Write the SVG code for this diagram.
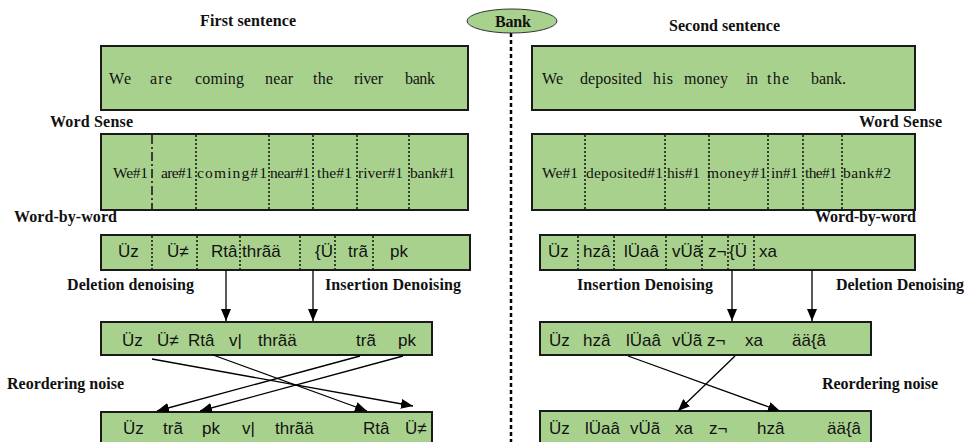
<svg xmlns="http://www.w3.org/2000/svg" width="969" height="442" viewBox="0 0 969 442">
<defs>
<marker id="ah" viewBox="0 0 12 10" refX="12" refY="5" markerWidth="12" markerHeight="10" markerUnits="userSpaceOnUse" orient="auto">
<path d="M0,0 L12,5 L0,10 z" fill="#000"/>
</marker>
<style>
.box{fill:#a9d18e;stroke:#1a1a1a;stroke-width:2}
.div{stroke:#111;stroke-width:1.5;stroke-dasharray:2 2}
.lbl{font-family:"Liberation Serif",serif;font-weight:bold;font-size:16px;fill:#111}
.sv{font-family:"Liberation Serif",serif;font-size:16px;fill:#111}
.ws{font-family:"Liberation Serif",serif;font-size:15.5px;fill:#111}
.ur{font-family:"Liberation Sans",sans-serif;font-size:17px;fill:#111}
.con{stroke:#000;stroke-width:1.3;fill:none;marker-end:url(#ah)}
</style>
</defs>
<rect width="969" height="442" fill="#fff"/>

<g id="labels">
<text class="lbl" x="200" y="26" textLength="96">First sentence</text>
<text class="lbl" x="669" y="31" textLength="111">Second sentence</text>
<text class="lbl" x="50" y="127" textLength="83">Word Sense</text>
<text class="lbl" x="859" y="127" textLength="83">Word Sense</text>
<text class="lbl" x="14" y="222" textLength="103">Word-by-word</text>
<text class="lbl" x="815" y="222" textLength="101">Word-by-word</text>
<text class="lbl" x="67" y="290" textLength="127">Deletion denoising</text>
<text class="lbl" x="325" y="290" textLength="136">Insertion Denoising</text>
<text class="lbl" x="577" y="290" textLength="136">Insertion Denoising</text>
<text class="lbl" x="836" y="290" textLength="128">Deletion Denoising</text>
<text class="lbl" x="7" y="389" textLength="117">Reordering noise</text>
<text class="lbl" x="822" y="389" textLength="116">Reordering noise</text>
</g>

<g id="bank">
<line x1="511" y1="33" x2="511" y2="442" stroke="#000" stroke-width="2.5" stroke-dasharray="4 3"/>
<ellipse cx="512" cy="21" rx="45" ry="12" fill="#a9d18e" stroke="#333" stroke-width="1"/>
<text class="lbl" x="495" y="27" textLength="36">Bank</text>
</g>

<g id="sentence1">
<rect class="box" x="101" y="46" width="367" height="64"/>
<text class="sv" x="109" y="84" textLength="22">We</text>
<text class="sv" x="150" y="84" textLength="22">are</text>
<text class="sv" x="195" y="84" textLength="49">coming</text>
<text class="sv" x="265" y="84" textLength="28">near</text>
<text class="sv" x="313" y="84" textLength="20">the</text>
<text class="sv" x="354" y="84" textLength="29">river</text>
<text class="sv" x="405" y="84" textLength="30">bank</text>
</g>

<g id="sentence2">
<rect class="box" x="532" y="46" width="383" height="64"/>
<text class="sv" x="542" y="84" textLength="21">We</text>
<text class="sv" x="580" y="84" textLength="62">deposited</text>
<text class="sv" x="653" y="84" textLength="20">his</text>
<text class="sv" x="684" y="84" textLength="44">money</text>
<text class="sv" x="746" y="84" textLength="12">in</text>
<text class="sv" x="767" y="84" textLength="22">the</text>
<text class="sv" x="811" y="84" textLength="35">bank.</text>
</g>

<g id="sense1">
<rect class="box" x="101" y="134" width="367" height="76"/>
<line x1="152" y1="135" x2="152" y2="209" stroke="#111" stroke-width="1.5" stroke-dasharray="9 3 2 3"/>
<line class="div" x1="196" y1="135" x2="196" y2="209"/>
<line class="div" x1="269" y1="135" x2="269" y2="209"/>
<line class="div" x1="313" y1="135" x2="313" y2="209"/>
<line class="div" x1="357" y1="135" x2="357" y2="209"/>
<line class="div" x1="409" y1="135" x2="409" y2="209"/>
<text class="ws" x="113" y="178" textLength="35">We#1</text>
<text class="ws" x="161" y="178" textLength="32">are#1</text>
<text class="ws" x="197" y="178" textLength="70">coming#1</text>
<text class="ws" x="270" y="178" textLength="40">near#1</text>
<text class="ws" x="317" y="178" textLength="35">the#1</text>
<text class="ws" x="358" y="178" textLength="45">river#1</text>
<text class="ws" x="410" y="178" textLength="45">bank#1</text>
</g>

<g id="sense2">
<rect class="box" x="532" y="134" width="383" height="76"/>
<line class="div" x1="585" y1="135" x2="585" y2="209"/>
<line class="div" x1="665" y1="135" x2="665" y2="209"/>
<line class="div" x1="709" y1="135" x2="709" y2="209"/>
<line class="div" x1="768" y1="135" x2="768" y2="209"/>
<line class="div" x1="803" y1="135" x2="803" y2="209"/>
<line class="div" x1="842" y1="135" x2="842" y2="209"/>
<text class="ws" x="542" y="178" textLength="36">We#1</text>
<text class="ws" x="586" y="178" textLength="77">deposited#1</text>
<text class="ws" x="667" y="178" textLength="33">his#1</text>
<text class="ws" x="707" y="178" textLength="60">money#1</text>
<text class="ws" x="771" y="178" textLength="27">in#1</text>
<text class="ws" x="805" y="178" textLength="32">the#1</text>
<text class="ws" x="843" y="178" textLength="48">bank#2</text>
</g>

<g id="wbw1">
<rect class="box" x="101" y="235" width="369" height="35"/>
<line class="div" x1="152" y1="236" x2="152" y2="269"/>
<line class="div" x1="197" y1="236" x2="197" y2="269"/>
<line class="div" x1="240" y1="236" x2="240" y2="269"/>
<line class="div" x1="300" y1="236" x2="300" y2="269"/>
<line class="div" x1="335" y1="236" x2="335" y2="269"/>
<line class="div" x1="373" y1="236" x2="373" y2="269"/>
<text class="ur" x="118" y="257">Üz</text>
<text class="ur" x="167" y="257">Ü≠</text>
<text class="ur" x="211" y="257">Rtâ</text>
<text class="ur" x="242" y="257">thrãä</text>
<text class="ur" x="315" y="257">{Ü</text>
<text class="ur" x="348" y="257">trã</text>
<text class="ur" x="390" y="257">pk</text>
</g>

<g id="wbw2">
<rect class="box" x="540" y="235" width="375" height="35"/>
<line class="div" x1="578" y1="236" x2="578" y2="269"/>
<line class="div" x1="614" y1="236" x2="614" y2="269"/>
<line class="div" x1="666" y1="236" x2="666" y2="269"/>
<line class="div" x1="702" y1="236" x2="702" y2="269"/>
<line class="div" x1="728" y1="236" x2="728" y2="269"/>
<line class="div" x1="754" y1="236" x2="754" y2="269"/>
<text class="ur" x="548" y="257">Üz</text>
<text class="ur" x="583" y="257">hzâ</text>
<text class="ur" x="624" y="257">lÜaâ</text>
<text class="ur" x="672" y="257">vÜã</text>
<text class="ur" x="708" y="257">z¬</text>
<text class="ur" x="729" y="257">{Ü</text>
<text class="ur" x="759" y="257">xa</text>
</g>

<g id="denoise1">
<rect class="box" x="101" y="322" width="331" height="33"/>
<text class="ur" x="122" y="346">Üz</text>
<text class="ur" x="157" y="346">Ü≠</text>
<text class="ur" x="188" y="346">Rtâ</text>
<text class="ur" x="229" y="346">v|</text>
<text class="ur" x="258" y="346">thrãä</text>
<text class="ur" x="356" y="346">trã</text>
<text class="ur" x="398" y="346">pk</text>
</g>

<g id="denoise2">
<rect class="box" x="540" y="322" width="331" height="33"/>
<text class="ur" x="549" y="346">Üz</text>
<text class="ur" x="583" y="346">hzâ</text>
<text class="ur" x="626" y="346">lÜaâ</text>
<text class="ur" x="672" y="346">vÜã</text>
<text class="ur" x="707" y="346">z¬</text>
<text class="ur" x="745" y="346">xa</text>
<text class="ur" x="792" y="346">ää{â</text>
</g>

<g id="reorder1">
<rect class="box" x="101" y="412" width="331" height="40"/>
<text class="ur" x="123" y="434">Üz</text>
<text class="ur" x="163" y="434">trã</text>
<text class="ur" x="202" y="434">pk</text>
<text class="ur" x="242" y="434">v|</text>
<text class="ur" x="275" y="434">thrãä</text>
<text class="ur" x="363" y="434">Rtâ</text>
<text class="ur" x="405" y="434">Ü≠</text>
</g>

<g id="reorder2">
<rect class="box" x="540" y="411" width="331" height="40"/>
<text class="ur" x="549" y="434">Üz</text>
<text class="ur" x="585" y="434">lÜaâ</text>
<text class="ur" x="630" y="434">vÜã</text>
<text class="ur" x="675" y="434">xa</text>
<text class="ur" x="709" y="434">z¬</text>
<text class="ur" x="757" y="434">hzâ</text>
<text class="ur" x="827" y="434">ää{â</text>
</g>

<g id="connectors">
<line class="con" x1="226" y1="270" x2="226" y2="321"/>
<line class="con" x1="313" y1="270" x2="313" y2="321"/>
<line class="con" x1="732" y1="270" x2="732" y2="321"/>
<line class="con" x1="812" y1="270" x2="812" y2="321"/>
<line class="con" x1="152" y1="359" x2="413" y2="406"/>
<line class="con" x1="213" y1="355" x2="367" y2="411"/>
<line class="con" x1="360" y1="356" x2="157" y2="411"/>
<line class="con" x1="403" y1="356" x2="200" y2="411"/>
<line class="con" x1="628" y1="356" x2="780" y2="411"/>
<line class="con" x1="735" y1="356" x2="678" y2="411"/>
</g>
</svg>
